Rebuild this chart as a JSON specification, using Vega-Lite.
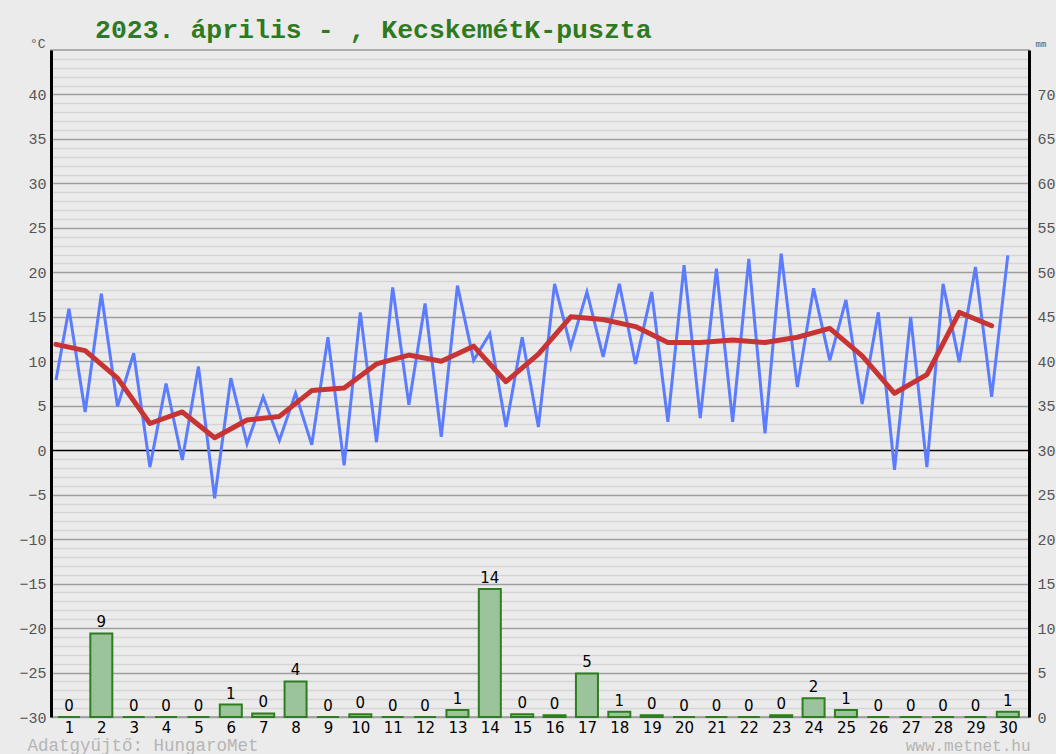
{
  "$schema": "https://vega.github.io/schema/vega-lite/v6.json",
  "width": 978,
  "height": 667,
  "autosize": {"type": "none"},
  "padding": {"left": 51, "right": 27, "top": 50, "bottom": 37},
  "background": "#ebebeb",
  "config": {"view": {"stroke": "#9a9a9a", "strokeWidth": 1.5, "fill": "#ebebeb"}},
  "title": {
    "text": "2023. április - , KecskemétK-puszta",
    "anchor": "start",
    "frame": "group",
    "dx": 44,
    "dy": 31,
    "offset": 4,
    "font": "Liberation Mono",
    "fontSize": 26.5,
    "fontWeight": "bold",
    "color": "#2f7a1f",
    "baseline": "alphabetic"
  },
  "datasets": {
    "minmax": [
      {"t": 0.6, "v": 7.9}, {"t": 1, "v": 15.9}, {"t": 1.5, "v": 4.3}, {"t": 2, "v": 17.6},
      {"t": 2.5, "v": 4.9}, {"t": 3, "v": 10.9}, {"t": 3.5, "v": -1.9}, {"t": 4, "v": 7.5},
      {"t": 4.5, "v": -1.1}, {"t": 5, "v": 9.4}, {"t": 5.5, "v": -5.4}, {"t": 6, "v": 8.1},
      {"t": 6.5, "v": 0.7}, {"t": 7, "v": 6.0}, {"t": 7.5, "v": 1.1}, {"t": 8, "v": 6.4},
      {"t": 8.5, "v": 0.6}, {"t": 9, "v": 12.7}, {"t": 9.5, "v": -1.7}, {"t": 10, "v": 15.5},
      {"t": 10.5, "v": 0.9}, {"t": 11, "v": 18.3}, {"t": 11.5, "v": 5.1}, {"t": 12, "v": 16.5},
      {"t": 12.5, "v": 1.5}, {"t": 13, "v": 18.5}, {"t": 13.5, "v": 10.1}, {"t": 14, "v": 13.1},
      {"t": 14.5, "v": 2.6}, {"t": 15, "v": 12.7}, {"t": 15.5, "v": 2.6}, {"t": 16, "v": 18.7},
      {"t": 16.5, "v": 11.6}, {"t": 17, "v": 17.8}, {"t": 17.5, "v": 10.5}, {"t": 18, "v": 18.7},
      {"t": 18.5, "v": 9.7}, {"t": 19, "v": 17.8}, {"t": 19.5, "v": 3.2}, {"t": 20, "v": 20.8},
      {"t": 20.5, "v": 3.6}, {"t": 21, "v": 20.4}, {"t": 21.5, "v": 3.2}, {"t": 22, "v": 21.5},
      {"t": 22.5, "v": 1.9}, {"t": 23, "v": 22.1}, {"t": 23.5, "v": 7.1}, {"t": 24, "v": 18.2},
      {"t": 24.5, "v": 10.1}, {"t": 25, "v": 16.9}, {"t": 25.5, "v": 5.2}, {"t": 26, "v": 15.5},
      {"t": 26.5, "v": -2.2}, {"t": 27, "v": 15.0}, {"t": 27.5, "v": -1.9}, {"t": 28, "v": 18.7},
      {"t": 28.5, "v": 9.9}, {"t": 29, "v": 20.6}, {"t": 29.5, "v": 6.0}, {"t": 30, "v": 21.9}
    ],
    "mean": [
      {"t": 0.6, "v": 11.9}, {"t": 1.5, "v": 11.2}, {"t": 2.5, "v": 8.1}, {"t": 3.5, "v": 3.0},
      {"t": 4.5, "v": 4.3}, {"t": 5.5, "v": 1.4}, {"t": 6.5, "v": 3.4}, {"t": 7.5, "v": 3.8},
      {"t": 8.5, "v": 6.7}, {"t": 9.5, "v": 7.0}, {"t": 10.5, "v": 9.7}, {"t": 11.5, "v": 10.7},
      {"t": 12.5, "v": 10.0}, {"t": 13.5, "v": 11.7}, {"t": 14.5, "v": 7.7}, {"t": 15.5, "v": 10.8},
      {"t": 16.5, "v": 15.0}, {"t": 17.5, "v": 14.7}, {"t": 18.5, "v": 13.9}, {"t": 19.5, "v": 12.1},
      {"t": 20.5, "v": 12.1}, {"t": 21.5, "v": 12.4}, {"t": 22.5, "v": 12.1}, {"t": 23.5, "v": 12.7},
      {"t": 24.5, "v": 13.7}, {"t": 25.5, "v": 10.6}, {"t": 26.5, "v": 6.4}, {"t": 27.5, "v": 8.5},
      {"t": 28.5, "v": 15.5}, {"t": 29.5, "v": 14.0}
    ],
    "precip": [
      {"day": 1, "mm": 0}, {"day": 2, "mm": 9.4}, {"day": 3, "mm": 0}, {"day": 4, "mm": 0},
      {"day": 5, "mm": 0}, {"day": 6, "mm": 1.4}, {"day": 7, "mm": 0.4}, {"day": 8, "mm": 4.0},
      {"day": 9, "mm": 0}, {"day": 10, "mm": 0.3}, {"day": 11, "mm": 0}, {"day": 12, "mm": 0},
      {"day": 13, "mm": 0.8}, {"day": 14, "mm": 14.4}, {"day": 15, "mm": 0.3}, {"day": 16, "mm": 0.2},
      {"day": 17, "mm": 4.9}, {"day": 18, "mm": 0.6}, {"day": 19, "mm": 0.2}, {"day": 20, "mm": 0},
      {"day": 21, "mm": 0}, {"day": 22, "mm": 0}, {"day": 23, "mm": 0.2}, {"day": 24, "mm": 2.1},
      {"day": 25, "mm": 0.8}, {"day": 26, "mm": 0}, {"day": 27, "mm": 0}, {"day": 28, "mm": 0},
      {"day": 29, "mm": 0}, {"day": 30, "mm": 0.6}
    ]
  },
  "layer": [
    {
      "encoding": {
        "x": {
          "field": "t", "type": "quantitative",
          "scale": {"domain": [0.6, 30.5], "nice": false, "zero": false},
          "axis": {
            "orient": "bottom",
            "values": [1,2,3,4,5,6,7,8,9,10,11,12,13,14,15,16,17,18,19,20,21,22,23,24,25,26,27,28,29,30],
            "format": "d",
            "labelFont": "DejaVu Sans", "labelFontSize": 15, "labelColor": "#000000",
            "labelPadding": 3, "labelFlush": false, "labelOverlap": false,
            "ticks": false, "domain": false, "grid": false,
            "title": "Adatgyűjtő: HungaroMet",
            "titleFont": "Liberation Mono", "titleFontSize": 17.5, "titleFontWeight": "normal",
            "titleColor": "#b5b5b5", "titleAlign": "left", "titleBaseline": "middle",
            "titleX": -24, "titleY": 28, "titleAngle": 0
          }
        },
        "y": {
          "field": "v", "type": "quantitative",
          "scale": {"domain": [-30, 45], "nice": false, "zero": false},
          "axis": {
            "orient": "left",
            "values": [-30,-25,-20,-15,-10,-5,0,5,10,15,20,25,30,35,40],
            "labelFont": "Liberation Mono", "labelFontSize": 15, "labelColor": "#555555",
            "labelPadding": 5, "labelOverlap": false,
            "ticks": false,
            "domainColor": "#000000", "domainWidth": 3,
            "grid": true,
            "gridColor": {"condition": {"test": "datum.value === 0", "value": "#000000"}, "value": "#9e9e9e"},
            "gridWidth": 1.5,
            "title": "°C", "titleAngle": 0, "titleAlign": "right", "titleBaseline": "alphabetic",
            "titleX": -6, "titleY": -3,
            "titleFont": "Liberation Mono", "titleFontSize": 13, "titleFontWeight": "normal", "titleColor": "#555555"
          }
        }
      },
      "layer": [
        {"data": {"name": "minmax"}, "mark": {"type": "line", "color": "#5b7cff", "strokeWidth": 3, "strokeJoin": "miter"}},
        {"data": {"name": "mean"}, "mark": {"type": "line", "color": "#c83434", "strokeWidth": 5, "strokeCap": "round", "strokeJoin": "round"}}
      ]
    },
    {
      "data": {"name": "precip"},
      "encoding": {
        "x": {
          "field": "day", "type": "quantitative",
          "scale": {"domain": [0.6, 30.5], "nice": false, "zero": false},
          "axis": {
            "orient": "top", "labels": false, "ticks": false, "domain": false, "grid": false,
            "title": "www.metnet.hu",
            "titleFont": "Liberation Mono", "titleFontSize": 16, "titleFontWeight": "normal",
            "titleColor": "#b5b5b5", "titleAlign": "right", "titleBaseline": "middle",
            "titleX": 979, "titleY": 695, "titleAngle": 0
          }
        },
        "y": {
          "field": "mm", "type": "quantitative",
          "scale": {"domain": [0, 75], "nice": false},
          "axis": {
            "orient": "right",
            "values": [0,1,2,3,4,5,6,7,8,9,10,11,12,13,14,15,16,17,18,19,20,21,22,23,24,25,26,27,28,29,30,31,32,33,34,35,36,37,38,39,40,41,42,43,44,45,46,47,48,49,50,51,52,53,54,55,56,57,58,59,60,61,62,63,64,65,66,67,68,69,70,71,72,73,74,75],
            "labelExpr": "datum.value % 5 === 0 && datum.value < 75 ? datum.label : ''",
            "labelFont": "Liberation Mono", "labelFontSize": 15, "labelColor": "#555555",
            "labelPadding": 8, "labelOverlap": false,
            "ticks": false,
            "domainColor": "#000000", "domainWidth": 3,
            "grid": true,
            "gridColor": {"condition": {"test": "datum.value % 5 === 0", "value": "transparent"}, "value": "#d5d5d5"},
            "gridWidth": 1.5,
            "title": "mm", "titleAngle": 0, "titleAlign": "left", "titleBaseline": "alphabetic",
            "titleX": 6, "titleY": -4,
            "titleFont": "Liberation Mono", "titleFontSize": 9, "titleFontWeight": "normal", "titleColor": "#555555"
          }
        }
      },
      "layer": [
        {"mark": {"type": "bar", "width": 22, "fill": "#9cc49c", "stroke": "#2e7d1e", "strokeWidth": 2}},
        {
          "mark": {"type": "text", "dy": -6, "baseline": "alphabetic", "font": "DejaVu Sans", "fontSize": 15, "color": "#000000"},
          "encoding": {"text": {"field": "mm", "type": "quantitative", "format": ".0f"}}
        }
      ]
    }
  ],
  "resolve": {"scale": {"y": "independent"}, "axis": {"x": "independent"}}
}
